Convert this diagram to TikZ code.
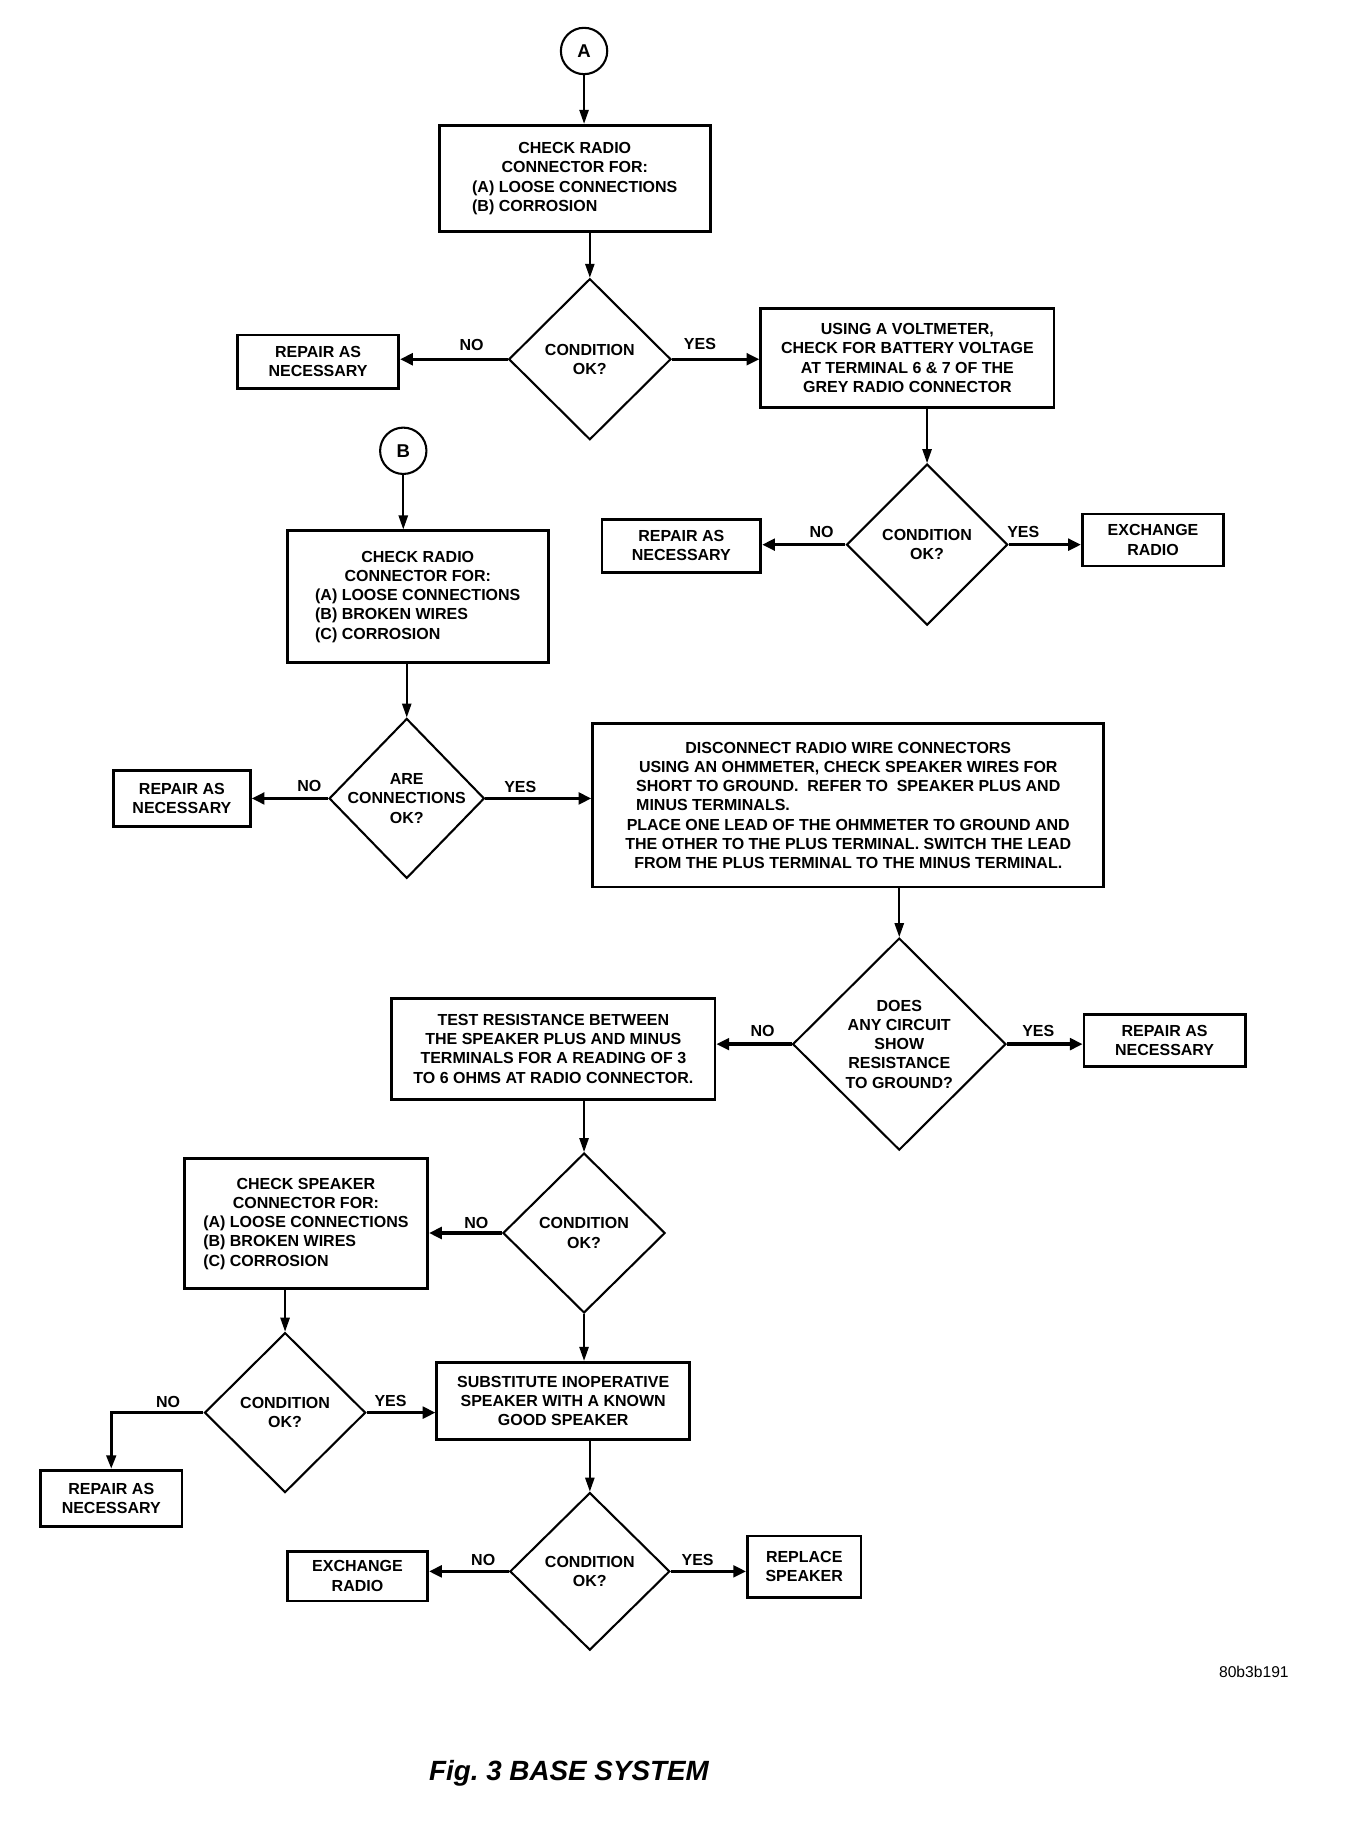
\documentclass[tikz,border=0pt]{standalone}
\usepackage{fontspec}
\setmainfont{Liberation Sans}
\usepackage{calc}
\usetikzlibrary{shapes.geometric,arrows.meta}
\begin{document}
\begin{tikzpicture}[x=1pt,y=-1pt,
  every node/.style={font=\fontsize{13.8}{16.6}\selectfont\bfseries},
  box/.style={draw, line width=2.4pt, inner sep=0pt, align=center},
  dia/.style={draw, shape=diamond, line width=1.8pt, inner sep=0pt},
  conn/.style={draw, shape=circle, line width=1.8pt, minimum size=40pt, inner sep=0pt, font=\fontsize{16}{18}\selectfont\bfseries},
  lbl/.style={inner sep=0pt, align=center},
  varr/.style={line width=1.5pt, -{Triangle[length=12pt,width=8pt]}},
  harr/.style={line width=3pt, -{Triangle[length=11pt,width=10pt]}},
]
\useasboundingbox (0,0) rectangle (1160,1574);

% connectors circles
\node[conn] (A) at (504,44) {A};
\node[conn] (B) at (348,389) {B};

% boxes
\node[box, minimum width=234pt, minimum height=92pt] (box1) at (496,154)
  {CHECK RADIO\\CONNECTOR FOR:\\(A) LOOSE CONNECTIONS\\\makebox[\widthof{(A) LOOSE CONNECTIONS}][l]{(B) CORROSION}};
\node[box, minimum width=139pt, minimum height=46pt] (r1) at (274.5,312) {REPAIR AS\\NECESSARY};
\node[box, minimum width=253pt, minimum height=85pt] (volt) at (783,309)
  {USING A VOLTMETER,\\CHECK FOR BATTERY VOLTAGE\\AT TERMINAL 6 \& 7 OF THE\\GREY RADIO CONNECTOR};
\node[box, minimum width=137pt, minimum height=46pt] (r2) at (588,471) {REPAIR AS\\NECESSARY};
\node[box, minimum width=122pt, minimum height=45pt] (ex1) at (995,466) {EXCHANGE\\RADIO};
\node[box, minimum width=225pt, minimum height=114pt] (bb) at (360.5,515)
  {CHECK RADIO\\CONNECTOR FOR:\\(A) LOOSE CONNECTIONS\\\makebox[\widthof{(A) LOOSE CONNECTIONS}][l]{(B) BROKEN WIRES}\\\makebox[\widthof{(A) LOOSE CONNECTIONS}][l]{(C) CORROSION}};
\node[box, minimum width=118pt, minimum height=48pt] (r3) at (157,689) {REPAIR AS\\NECESSARY};
\node[box, minimum width=441pt, minimum height=141pt] (dc) at (732,695)
  {DISCONNECT RADIO WIRE CONNECTORS\\
   USING AN OHMMETER, CHECK SPEAKER WIRES FOR\\
   SHORT TO GROUND.\ \ REFER TO\ \ SPEAKER PLUS AND\\
   \makebox[\widthof{SHORT TO GROUND.\ \ REFER TO\ \ SPEAKER PLUS AND}][l]{MINUS TERMINALS.}\\
   PLACE ONE LEAD OF THE OHMMETER TO GROUND AND\\
   THE OTHER TO THE PLUS TERMINAL. SWITCH THE LEAD\\
   FROM THE PLUS TERMINAL TO THE MINUS TERMINAL.};
\node[box, minimum width=279pt, minimum height=87pt] (test) at (477.5,905)
  {TEST RESISTANCE BETWEEN\\THE SPEAKER PLUS AND MINUS\\TERMINALS FOR A READING OF 3\\TO 6 OHMS AT RADIO CONNECTOR.};
\node[box, minimum width=139pt, minimum height=45pt] (r4) at (1005,898) {REPAIR AS\\NECESSARY};
\node[box, minimum width=210pt, minimum height=112pt] (cs) at (264,1056)
  {CHECK SPEAKER\\CONNECTOR FOR:\\(A) LOOSE CONNECTIONS\\\makebox[\widthof{(A) LOOSE CONNECTIONS}][l]{(B) BROKEN WIRES}\\\makebox[\widthof{(A) LOOSE CONNECTIONS}][l]{(C) CORROSION}};
\node[box, minimum width=218pt, minimum height=67pt] (sub) at (486,1209)
  {SUBSTITUTE INOPERATIVE\\SPEAKER WITH A KNOWN\\GOOD SPEAKER};
\node[box, minimum width=122pt, minimum height=48pt] (r5) at (96,1293) {REPAIR AS\\NECESSARY};
\node[box, minimum width=121pt, minimum height=43pt] (ex2) at (308.5,1360) {EXCHANGE\\RADIO};
\node[box, minimum width=98pt, minimum height=53pt] (rep) at (694,1352) {REPLACE\\SPEAKER};

% diamonds
\node[dia, minimum width=140pt, minimum height=139pt] (d1) at (509,310) {};
\node[lbl] (d1t) at (d1.center) {CONDITION\\OK?};
\node[dia, minimum width=139pt, minimum height=139pt] (d2) at (800,470) {};
\node[lbl] (d2t) at (d2.center) {CONDITION\\OK?};
\node[dia, minimum width=134pt, minimum height=138pt] (d3) at (351,689) {};
\node[lbl] (d3t) at (d3.center) {ARE\\CONNECTIONS\\OK?};
\node[dia, minimum width=184pt, minimum height=183pt] (d4) at (776,901) {};
\node[lbl] (d4t) at (d4.center) {DOES\\ANY CIRCUIT\\SHOW\\RESISTANCE\\TO GROUND?};
\node[dia, minimum width=140pt, minimum height=138pt] (d5) at (504,1064) {};
\node[lbl] (d5t) at (d5.center) {CONDITION\\OK?};
\node[dia, minimum width=139pt, minimum height=138pt] (d6) at (246,1219) {};
\node[lbl] (d6t) at (d6.center) {CONDITION\\OK?};
\node[dia, minimum width=138pt, minimum height=136pt] (d7) at (509,1356) {};
\node[lbl] (d7t) at (d7.center) {CONDITION\\OK?};

% vertical connectors
\draw[varr] (A.south) -- (A.south |- box1.north);
\draw[varr] (d1.north |- box1.south) -- (d1.north);
\draw[varr] (d2.north |- volt.south) -- (d2.north);
\draw[varr] (B.south) -- (B.south |- bb.north);
\draw[varr] (d3.north |- bb.south) -- (d3.north);
\draw[varr] (d4.north |- dc.south) -- (d4.north);
\draw[varr] (d5.north |- test.south) -- (d5.north);
\draw[varr] (d5.south) -- (d5.south |- sub.north);
\draw[varr] (d6.north |- cs.south) -- (d6.north);
\draw[varr] (d7.north |- sub.south) -- (d7.north);

% horizontal connectors
\draw[harr] (d1.west) -- (d1.west -| r1.east);
\draw[harr] (d1.east) -- (d1.east -| volt.west);
\draw[harr] (d2.west) -- (d2.west -| r2.east);
\draw[harr] (d2.east) -- (d2.east -| ex1.west);
\draw[harr] (d3.west) -- (d3.west -| r3.east);
\draw[harr] (d3.east) -- (d3.east -| dc.west);
\draw[harr] (d4.west) -- (d4.west -| test.east);
\draw[harr] (d4.east) -- (d4.east -| r4.west);
\draw[harr] (d5.west) -- (d5.west -| cs.east);
\draw[harr] (d6.east) -- (d6.east -| sub.west);
\draw[line width=3pt, -{Triangle[length=12pt,width=8pt]}] (d6.west) -| (r5.north);
\draw[harr] (d7.west) -- (d7.west -| ex2.east);
\draw[harr] (d7.east) -- (d7.east -| rep.west);

% labels
\node[lbl] (n1) at (407,298) {NO};
\node[lbl] (y1) at (604,297) {YES};
\node[lbl] (n2) at (709,459) {NO};
\node[lbl] (y2) at (883,459) {YES};
\node[lbl] (n3) at (267,678) {NO};
\node[lbl] (y3) at (449,679) {YES};
\node[lbl] (n4) at (658,890) {NO};
\node[lbl] (y4) at (896,890) {YES};
\node[lbl] (n5) at (411,1055) {NO};
\node[lbl] (n6) at (145,1210) {NO};
\node[lbl] (y6) at (337,1209) {YES};
\node[lbl] (n7) at (417,1346) {NO};
\node[lbl] (y7) at (602,1346) {YES};

\node[lbl, font=\fontsize{13.5}{15}\selectfont] (code) at (1082,1443) {80b3b191};
\node[lbl, font=\fontsize{24}{28}\selectfont\bfseries\itshape] (cap) at (491,1530) {Fig.\ 3 BASE SYSTEM};
\end{tikzpicture}
\end{document}
